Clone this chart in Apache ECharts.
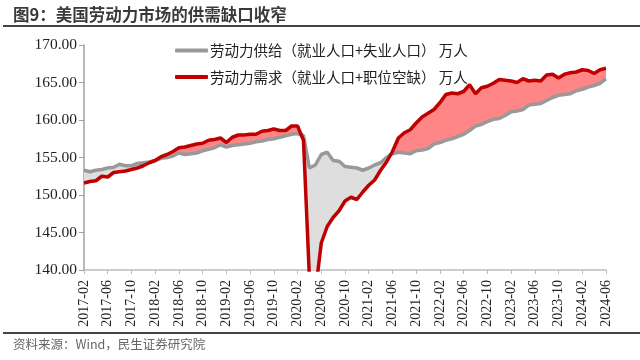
<!DOCTYPE html>
<html><head><meta charset="utf-8">
<script src="https://cdn.jsdelivr.net/npm/echarts@6/dist/echarts.min.js"></script>
<style>html,body{margin:0;padding:0;background:#fff}#c{width:640px;height:360px}</style>
</head><body><div id="c"></div>
<script>
const categories = [
'2017-02','2017-03','2017-04','2017-05','2017-06','2017-07','2017-08','2017-09','2017-10','2017-11','2017-12',
'2018-01','2018-02','2018-03','2018-04','2018-05','2018-06','2018-07','2018-08','2018-09','2018-10','2018-11','2018-12',
'2019-01','2019-02','2019-03','2019-04','2019-05','2019-06','2019-07','2019-08','2019-09','2019-10','2019-11','2019-12',
'2020-01','2020-02','2020-03','2020-04','2020-05','2020-06','2020-07','2020-08','2020-09','2020-10','2020-11','2020-12',
'2021-01','2021-02','2021-03','2021-04','2021-05','2021-06','2021-07','2021-08','2021-09','2021-10','2021-11','2021-12',
'2022-01','2022-02','2022-03','2022-04','2022-05','2022-06','2022-07','2022-08','2022-09','2022-10','2022-11','2022-12',
'2023-01','2023-02','2023-03','2023-04','2023-05','2023-06','2023-07','2023-08','2023-09','2023-10','2023-11','2023-12',
'2024-01','2024-02','2024-03','2024-04','2024-05','2024-06'];

// 劳动力供给（就业人口+失业人口）
const supply = [
153.3,153.1,153.3,153.4,153.6,153.7,154.1,153.9,153.9,154.2,154.3,
154.4,154.6,154.9,155.0,155.2,155.6,155.4,155.5,155.6,155.9,156.1,156.3,
156.7,156.4,156.6,156.7,156.8,156.9,157.1,157.2,157.4,157.5,157.7,157.9,
158.1,158.2,157.9,153.6,154.0,155.4,155.7,154.6,154.5,153.8,153.7,153.6,
153.3,153.6,154.0,154.3,155.0,155.5,155.7,155.6,155.5,155.9,156.0,156.2,
156.8,157.0,157.3,157.5,157.8,158.1,158.6,159.2,159.4,159.8,160.1,160.2,
160.6,161.1,161.2,161.4,162.0,162.1,162.2,162.6,163.0,163.3,163.4,163.5,
163.9,164.1,164.4,164.6,164.9,165.5];

// 劳动力需求（就业人口+职位空缺）
const demand = [
151.6,151.8,151.9,152.5,152.4,153.0,153.1,153.2,153.4,153.6,153.9,
154.3,154.6,155.1,155.4,155.8,156.3,156.4,156.6,156.8,156.9,157.3,157.4,
157.6,157.0,157.7,158.0,158.0,158.1,158.1,158.5,158.6,158.8,158.6,158.6,
159.2,159.2,157.3,139.0,137.0,143.6,145.8,147.0,147.9,149.2,149.7,149.4,
150.4,151.3,152.0,153.3,154.4,155.8,157.6,158.3,158.7,159.6,160.4,160.9,
161.4,162.3,163.4,163.6,163.5,163.8,164.7,163.5,164.3,164.5,164.9,165.4,
165.3,165.2,165.0,165.5,165.2,165.3,165.2,166.0,166.1,165.6,166.1,166.3,
166.4,166.7,166.6,166.2,166.7,166.9];

const yTicks = [140, 145, 150, 155, 160, 165, 170];
const nameSupply = '劳动力供给（就业人口+失业人口） 万人';
const nameDemand = '劳动力需求（就业人口+职位空缺） 万人';

const base = supply.map((s, i) => Math.min(s, demand[i]));
const redBand = supply.map((s, i) => Math.max(demand[i] - s, 0));
const greyBand = supply.map((s, i) => Math.max(s - demand[i], 0));

const chart = echarts.init(document.getElementById('c'), null, {renderer: 'canvas'});
const cjk = '"Noto Sans CJK SC", "Noto Sans", sans-serif';
const serif = '"Liberation Serif", "DejaVu Serif", serif';
chart.setOption({
  animation: false,
  backgroundColor: '#fff',
  graphic: [
    {type: 'text', left: 13, top: 6, style: {text: '图9：美国劳动力市场的供需缺口收窄', font: 'bold 16.5px ' + cjk, fill: '#3a3a3a'}},
    {type: 'rect', shape: {x: 3, y: 25, width: 637, height: 2}, style: {fill: '#444'}},
    {type: 'rect', shape: {x: 3, y: 332, width: 637, height: 2}, style: {fill: '#444'}},
    {type: 'text', left: 13, top: 338, style: {text: '资料来源：Wind，民生证券研究院', font: '12.5px ' + cjk, fill: '#666'}}
  ],
  grid: {left: 84, right: 34, top: 45, bottom: 90},
  legend: {
    orient: 'vertical', left: 175, top: 42.5, padding: 0, itemWidth: 33, itemHeight: 4, itemGap: 10.5,
    icon: 'roundRect',
    data: [nameSupply, nameDemand],
    textStyle: {fontFamily: cjk, fontSize: 14.5, lineHeight: 16, color: '#222', padding: [0, 0, 0, -3]}
  },
  xAxis: {
    type: 'category', boundaryGap: false, data: categories,
    axisLine: {lineStyle: {color: '#bdbdbd', width: 1.5}},
    axisTick: {interval: 3, length: 4, lineStyle: {color: '#bdbdbd'}},
    axisLabel: {interval: 3, rotate: 90, margin: 10, fontFamily: serif, fontSize: 14, color: '#222'},
    splitLine: {show: false}
  },
  yAxis: {
    type: 'value', min: yTicks[0], max: yTicks[yTicks.length - 1], interval: 5,
    axisLine: {show: true, lineStyle: {color: '#a0a0a0', width: 1.5}},
    axisTick: {show: true, length: 5, lineStyle: {color: '#a0a0a0'}},
    axisLabel: {formatter: v => v.toFixed(2), fontFamily: serif, fontSize: 15.5, color: '#222', margin: 7},
    splitLine: {show: false}
  },
  series: [
    {name: 'base', type: 'line', stack: 'band', data: base, symbol: 'none', lineStyle: {width: 0, opacity: 0}, silent: true},
    {name: 'redBand', type: 'line', stack: 'band', data: redBand, symbol: 'none', lineStyle: {width: 0, opacity: 0}, areaStyle: {color: '#ff8686', opacity: 1}, silent: true},
    {name: 'greyBand', type: 'line', stack: 'band', data: greyBand, symbol: 'none', lineStyle: {width: 0, opacity: 0}, areaStyle: {color: '#dedede', opacity: 1}, silent: true},
    {name: nameSupply, type: 'line', data: supply, symbol: 'none', showSymbol: false, lineStyle: {color: '#999999', width: 3.5}, itemStyle: {color: '#999999'}},
    {name: nameDemand, type: 'line', data: demand, symbol: 'none', showSymbol: false, lineStyle: {color: '#c00000', width: 3.5}, itemStyle: {color: '#c00000'}}
  ]
});
</script></body></html>
